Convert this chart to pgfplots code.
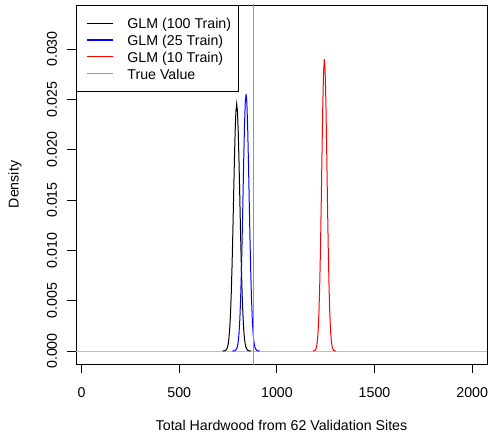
\documentclass[border=0pt]{standalone}
\usepackage{pgfplots}
\pgfplotsset{compat=1.18}
\usepackage{fontspec}
\setmainfont{Liberation Sans}
\definecolor{rgreen}{RGB}{0,255,0}
\definecolor{rblue}{RGB}{0,0,255}
\definecolor{rred}{RGB}{255,0,0}
\definecolor{rgray}{RGB}{190,190,190}
\newcommand{\rfont}{\fontsize{14.2}{16}\selectfont}
\begin{document}
\rfont
\begin{tikzpicture}
\begin{axis}[
  name=ax,
  scale only axis,
  width=411pt, height=359pt,
  xmin=-29, xmax=2076,
  ymin=-0.00129, ymax=0.03437,
  axis line style={line width=0.9pt},
  tick style={line width=0.9pt, black},
  tick align=outside,
  xtick pos=bottom, ytick pos=left,
  major tick length=9pt,
  xtick={0,500,1000,1500,2000},
  ytick={0,0.005,0.010,0.015,0.020,0.025,0.030},
  scaled y ticks=false,
  scaled x ticks=false,
  /pgf/number format/assume math mode=true,
  /pgf/number format/1000 sep={},
  yticklabel style={/pgf/number format/fixed, /pgf/number format/fixed zerofill, /pgf/number format/precision=3},
  yticklabel style={xshift=-15pt, rotate=90, anchor=center},
  xticklabel style={yshift=-20pt, anchor=center},
  ticklabel style={font=\rfont},
  xlabel={Total Hardwood from 62 Validation Sites},
  ylabel={Density},
  xlabel style={at={(axis description cs:0.5,-0.1699)}, anchor=center},
  ylabel style={at={(axis description cs:-0.1484,0.5)}, anchor=center},
  label style={font=\rfont},
  legend cell align=left,
  legend style={at={(0,1)}, anchor=north west, draw=black, line width=0.9pt, fill=white,
    font=\rfont, inner xsep=3.5pt, inner ysep=9.5pt, row sep=0pt,
    nodes={inner xsep=3.5pt, inner ysep=0pt, text height=14pt, text depth=2.7pt}},
  legend image code/.code={\path[draw=none,fill=none] (0pt,-1pt) rectangle (44pt,1pt); \draw[#1, line width=1.2pt] (7pt,0pt) -- (33pt,0pt);},
]
\addplot[rgray, line width=1pt, forget plot] coordinates {(-100,0) (2200,0)};
\addplot[black, line width=1pt] coordinates {
(722,0) (730,0.000011) (738,0.0000671) (746,0.000321) (750,0.000642) (754,0.00121)
(758,0.00214) (762,0.00357) (766,0.00561) (770,0.00830) (774,0.01156) (778,0.01516)
(782,0.01871) (786,0.02176) (790,0.02381) (794,0.02454) (798,0.02381) (802,0.02176)
(806,0.01871) (810,0.01516) (814,0.01156) (818,0.00830) (822,0.00561) (826,0.00357)
(830,0.00214) (834,0.00121) (838,0.000642) (842,0.000321) (850,0.0000671) (858,0.000011) (866,0)
};
\addlegendentry{GLM (100 Train)}
\addplot[rblue, line width=1pt] coordinates {
(772,0) (778,0.0000057) (786,0.0000406) (794,0.000225) (798,0.000478) (802,0.000954)
(806,0.00178) (810,0.00311) (814,0.00510) (818,0.00782) (822,0.01122) (826,0.01509)
(830,0.01899) (834,0.02238) (838,0.02471) (842,0.02553) (846,0.02471) (850,0.02238)
(854,0.01899) (858,0.01509) (862,0.01122) (866,0.00782) (870,0.00510) (874,0.00311)
(878,0.00178) (882,0.000954) (886,0.000478) (890,0.000225) (898,0.0000406) (906,0.0000057) (912,0)
};
\addlegendentry{GLM (25 Train)}
\addplot[rred, line width=1pt] coordinates {
(1185,0) (1187,0.0000073) (1195,0.0000661) (1199,0.000175) (1203,0.000424) (1207,0.000946)
(1211,0.00194) (1215,0.00366) (1219,0.00634) (1223,0.01008) (1227,0.01475) (1231,0.01983)
(1235,0.02449) (1239,0.02780) (1243,0.0290) (1247,0.02780) (1251,0.02449) (1255,0.01983)
(1259,0.01475) (1263,0.01008) (1267,0.00634) (1271,0.00366) (1275,0.00194) (1279,0.000946)
(1283,0.000424) (1287,0.000175) (1291,0.0000661) (1299,0.0000073) (1301,0)
};
\addlegendentry{GLM (10 Train)}
\addplot[rgreen, line width=1pt] coordinates {(880.1,-0.01) (880.1,0.05)};
\addlegendentry{True Value}
\end{axis}
\pgfresetboundingbox
\path ([shift={(-76pt,-74pt)}]ax.south west) rectangle ([shift={(1pt,5pt)}]ax.north east);
\end{tikzpicture}
\end{document}
